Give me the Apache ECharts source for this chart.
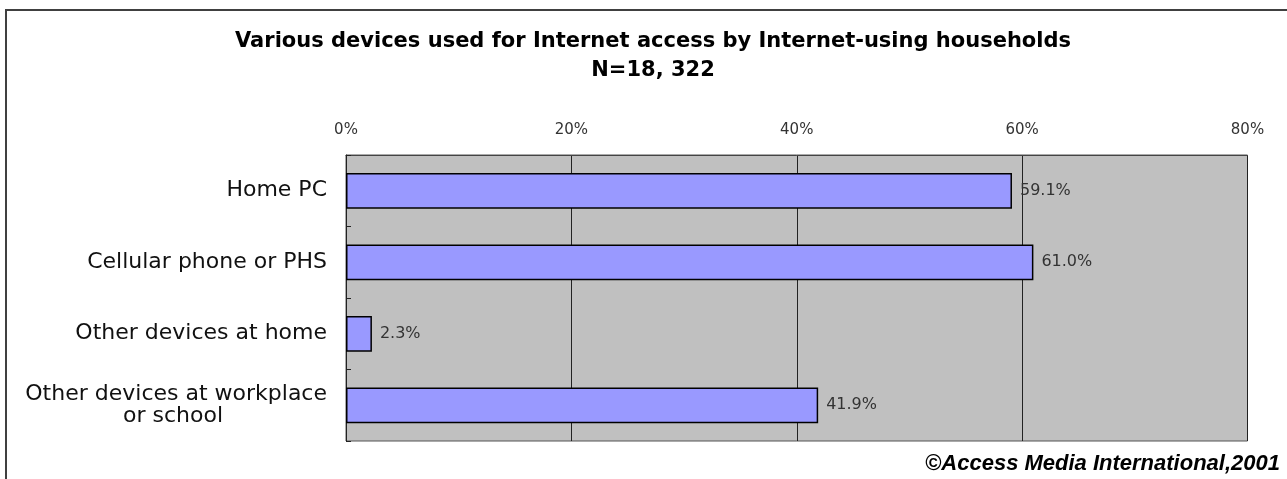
<!DOCTYPE html>
<html>
<head>
<meta charset="utf-8">
<script src="https://cdn.jsdelivr.net/npm/echarts@6/dist/echarts.min.js"></script>
<style>
html,body{margin:0;padding:0;background:#fff;}
#chart{width:1287px;height:479px;}
</style>
</head>
<body>
<div id="chart"></div>
<script>
const categories = ['Home PC', 'Cellular phone or PHS', 'Other devices at home', 'Other devices at workplace\nor school'];
const values = [59.1, 61.0, 2.3, 41.9];
const xTicks = [0, 20, 40, 60, 80];
const titleText = 'Various devices used for Internet access by Internet-using households\nN=18, 322';
const creditText = '©Access Media International,2001';

const chart = echarts.init(document.getElementById('chart'), null, {renderer: 'canvas'});
chart.setOption({
  animation: false,
  backgroundColor: '#fff',
  title: {
    text: titleText,
    left: 648,
    top: 22,
    textAlign: 'center',
    textStyle: {
      fontFamily: 'DejaVu Sans',
      fontWeight: 'bold',
      fontSize: 21,
      color: '#000',
      lineHeight: 29
    }
  },
  graphic: [
    {
      type: 'rect',
      shape: {x: 6, y: 10, width: 1300, height: 500},
      style: {fill: 'none', stroke: '#404040', lineWidth: 2},
      silent: true
    },
    {
      type: 'text',
      right: 7,
      bottom: 4,
      style: {
        text: creditText,
        font: 'italic bold 22px "Liberation Sans", Arial, sans-serif',
        fill: '#000'
      }
    }
  ],
  grid: {
    left: 346,
    right: 39.5,
    top: 155,
    bottom: 38,
    show: true,
    backgroundColor: '#c0c0c0',
    borderColor: '#555',
    borderWidth: 1
  },
  xAxis: {
    type: 'value',
    position: 'top',
    min: xTicks[0],
    max: xTicks[xTicks.length - 1],
    interval: 20,
    axisLine: {show: true, lineStyle: {color: '#444'}},
    axisTick: {show: false},
    splitLine: {show: true, lineStyle: {color: '#222', width: 1}},
    axisLabel: {
      formatter: '{value}%',
      color: '#333',
      fontFamily: 'DejaVu Sans',
      fontSize: 15,
      margin: 17
    }
  },
  yAxis: {
    type: 'category',
    inverse: true,
    data: categories,
    axisLine: {show: true, lineStyle: {color: '#222'}},
    axisTick: {show: true, inside: true, length: 5, lineStyle: {color: '#222'}},
    axisLabel: {
      color: '#111',
      fontFamily: 'DejaVu Sans',
      fontSize: 22,
      margin: 19,
      lineHeight: 22,
      formatter: v => {
        const parts = v.split('\n');
        if (parts.length === 1) return v;
        return '{a|' + parts[0] + '}\n{b|' + parts[1] + '}';
      },
      rich: {
        a: {fontFamily: 'DejaVu Sans', fontSize: 22, lineHeight: 22, color: '#111'},
        b: {fontFamily: 'DejaVu Sans', fontSize: 22, lineHeight: 22, color: '#111', padding: [0, 104, 0, 0]}
      }
    }
  },
  series: [{
    type: 'bar',
    data: values,
    barWidth: '50%',
    itemStyle: {color: '#9999ff', borderColor: '#000', borderWidth: 1.5},
    label: {
      show: true,
      position: 'right',
      distance: 8,
      formatter: p => p.value.toFixed(1) + '%',
      color: '#333',
      fontFamily: 'DejaVu Sans',
      fontSize: 16
    }
  }]
});
</script>
</body>
</html>
